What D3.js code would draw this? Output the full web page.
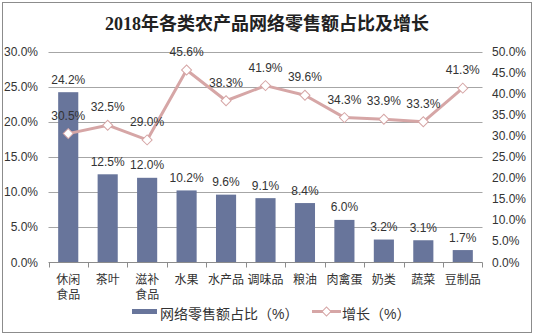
<!DOCTYPE html>
<html><head><meta charset="utf-8">
<script src="https://cdn.jsdelivr.net/npm/d3@7"></script>
<style>body{margin:0;background:#fff}svg{display:block}</style>
</head><body>
<svg id="c" width="534" height="336"></svg>
<script>
const categories = [["休闲","食品"],["茶叶"],["滋补","食品"],["水果"],["水产品"],["调味品"],["粮油"],["肉禽蛋"],["奶类"],["蔬菜"],["豆制品"]];
const shareValues = [24.2,12.5,12.0,10.2,9.6,9.1,8.4,6.0,3.2,3.1,1.7];
const growthValues = [30.5,32.5,29.0,45.6,38.3,41.9,39.6,34.3,33.9,33.3,41.3];
const leftTicks = [0,5,10,15,20,25,30];
const rightTicks = [0,5,10,15,20,25,30,35,40,45,50];
const seriesNames = ["网络零售额占比（%）","增长（%）"];
const title = "2018年各类农产品网络零售额占比及增长";

const svg = d3.select("#c");
const barColor = "#68759b", lineColor = "#d6a6a6", textColor = "#333";
const labelFont = "Liberation Sans, Arial, sans-serif";
const cjkFont = "'Liberation Sans', 'Noto Sans CJK SC', sans-serif";

svg.append("rect").attr("x",2.5).attr("y",2.5).attr("width",529).attr("height",330)
  .attr("fill","#fff").attr("stroke","#8c8c8c").attr("stroke-width",1);

svg.append("text").attr("x",267).attr("y",30).attr("text-anchor","middle")
  .attr("font-family","'Liberation Serif', 'Noto Sans CJK SC', serif").attr("font-weight","bold")
  .attr("font-size",18).attr("fill","#222").text(title);

const x = d3.scaleBand().domain(d3.range(categories.length)).range([48.5,482.5]).padding(0);
const yL = d3.scaleLinear().domain([0,30]).range([262,51.5]);
const yR = d3.scaleLinear().domain([0,50]).range([262,51.5]);

// gridlines
svg.append("g").selectAll("line").data(leftTicks.slice(1)).join("line")
  .attr("x1",48.5).attr("x2",482.5)
  .attr("y1",d=>Math.round(yL(d))+0.5).attr("y2",d=>Math.round(yL(d))+0.5)
  .attr("stroke","#a6a6a6").attr("stroke-width",1);

// left axis labels
svg.append("g").selectAll("text").data(leftTicks).join("text")
  .attr("x",38).attr("y",d=>yL(d)+4.5).attr("text-anchor","end")
  .attr("font-family",labelFont).attr("font-size",12).attr("fill",textColor)
  .text(d=>d.toFixed(1)+"%");
// right axis labels
svg.append("g").selectAll("text").data(rightTicks).join("text")
  .attr("x",492).attr("y",d=>yR(d)+4.5).attr("text-anchor","start")
  .attr("font-family",labelFont).attr("font-size",12).attr("fill",textColor)
  .text(d=>d.toFixed(1)+"%");

// bars
const bw = x.bandwidth()*0.51;
svg.append("g").selectAll("rect").data(shareValues).join("rect")
  .attr("x",(d,i)=>x(i)+x.bandwidth()/2-bw/2).attr("width",bw)
  .attr("y",d=>yL(d)).attr("height",d=>yL(0)-yL(d)).attr("fill",barColor);

// x axis
const axisY = 262.5;
svg.append("line").attr("x1",48.5).attr("x2",482.5).attr("y1",axisY).attr("y2",axisY)
  .attr("stroke","#8c8c8c");
svg.append("g").selectAll("line").data(d3.range(categories.length+1)).join("line")
  .attr("x1",i=>Math.round(i<categories.length?x(i):x(i-1)+x.bandwidth())+0.5)
  .attr("x2",i=>Math.round(i<categories.length?x(i):x(i-1)+x.bandwidth())+0.5)
  .attr("y1",axisY).attr("y2",axisY+5).attr("stroke","#8c8c8c");

// x labels (one text element per line)
const xlData = [];
categories.forEach((c,i)=>c.forEach((s,k)=>xlData.push({i,k,s})));
svg.append("g").selectAll("text").data(xlData).join("text")
  .attr("x",d=>x(d.i)+x.bandwidth()/2).attr("y",d=>284+d.k*15)
  .attr("text-anchor","middle").attr("font-family",cjkFont).attr("font-size",12).attr("fill",textColor)
  .text(d=>d.s);

// bar labels
svg.append("g").selectAll("text").data(shareValues).join("text")
  .attr("x",(d,i)=>x(i)+x.bandwidth()/2).attr("y",d=>yL(d)-8.5)
  .attr("text-anchor","middle").attr("font-family",labelFont).attr("font-size",12).attr("fill",textColor)
  .text(d=>d.toFixed(1)+"%");

// line
const line = d3.line().x((d,i)=>x(i)+x.bandwidth()/2).y(d=>yR(d));
svg.append("path").datum(growthValues).attr("d",line).attr("fill","none")
  .attr("stroke",lineColor).attr("stroke-width",3).attr("stroke-linejoin","round");
svg.append("g").selectAll("path").data(growthValues).join("path")
  .attr("d",d3.symbol().type(d3.symbolSquare).size(50))
  .attr("transform",(d,i)=>`translate(${x(i)+x.bandwidth()/2},${yR(d)}) rotate(45)`)
  .attr("fill","#fff").attr("stroke",lineColor).attr("stroke-width",1);

// line labels
svg.append("g").selectAll("text").data(growthValues).join("text")
  .attr("x",(d,i)=>x(i)+x.bandwidth()/2).attr("y",d=>yR(d)-14)
  .attr("text-anchor","middle").attr("font-family",labelFont).attr("font-size",12).attr("fill",textColor)
  .text(d=>d.toFixed(1)+"%");

// legend
const lg = svg.append("g");
lg.append("rect").attr("x",132).attr("y",309).attr("width",25).attr("height",5).attr("fill",barColor);
lg.append("text").attr("x",160).attr("y",319).attr("font-family",cjkFont).attr("font-size",14)
  .attr("fill",textColor).text(seriesNames[0]);
lg.append("line").attr("x1",312).attr("x2",341).attr("y1",311.5).attr("y2",311.5)
  .attr("stroke",lineColor).attr("stroke-width",3);
lg.append("path").attr("d",d3.symbol().type(d3.symbolSquare).size(40))
  .attr("transform","translate(326.5,311.5) rotate(45)").attr("fill","#fff").attr("stroke",lineColor);
lg.append("text").attr("x",342).attr("y",319).attr("font-family",cjkFont).attr("font-size",14)
  .attr("fill",textColor).text(seriesNames[1]);
</script>
</body></html>
